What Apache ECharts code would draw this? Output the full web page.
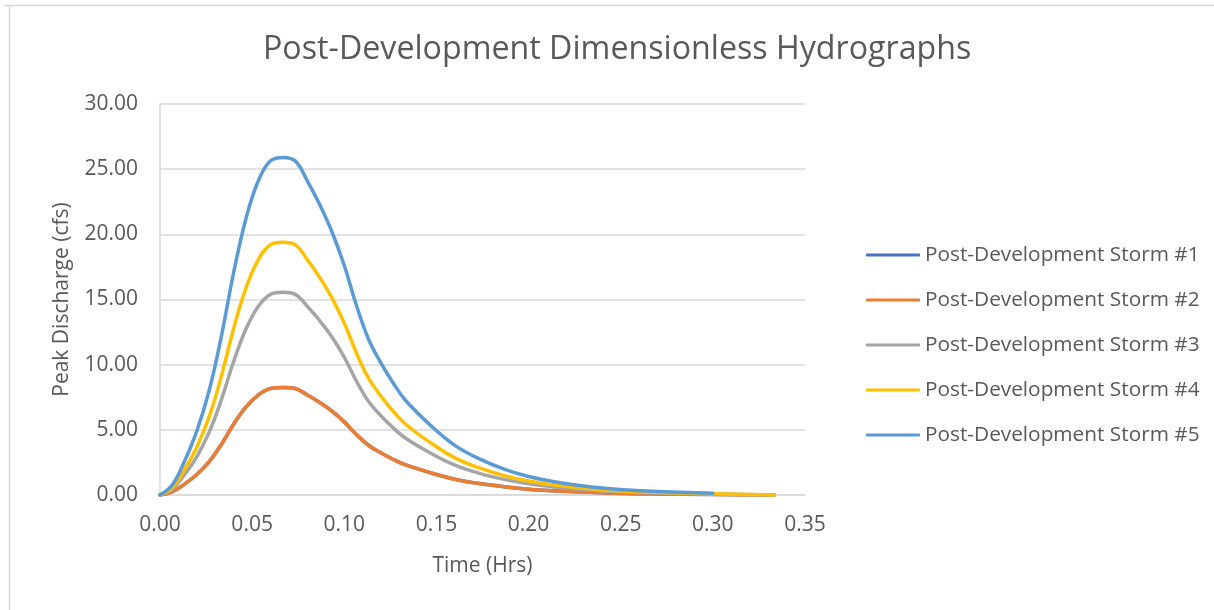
<!DOCTYPE html>
<html>
<head>
<meta charset="utf-8">
<script src="https://cdn.jsdelivr.net/npm/echarts@6/dist/echarts.min.js"></script>
<style>
  html, body { margin: 0; padding: 0; background: #ffffff; }
  #chart { width: 1214px; height: 610px; }
</style>
</head>
<body>
<div id="chart"></div>
<script>
// Time ordinates (hours) shared by all hydrographs
const timeHrs = [0, 0.0067, 0.0133, 0.02, 0.0267, 0.0333, 0.04, 0.0467, 0.0533, 0.06, 0.0667,
  0.0733, 0.08, 0.0867, 0.0933, 0.1, 0.1067, 0.1133, 0.12, 0.1267, 0.1333, 0.1467, 0.16,
  0.1733, 0.1867, 0.2, 0.2133, 0.2267, 0.24, 0.2533, 0.2667, 0.3, 0.3333];

// Discharge (cfs) for each storm
const storm1 = [0, 0.25, 0.83, 1.57, 2.56, 3.88, 5.45, 6.77, 7.67, 8.17, 8.25, 8.17, 7.67, 7.10,
  6.44, 5.61, 4.62, 3.80, 3.22, 2.72, 2.31, 1.71, 1.21, 0.88, 0.64, 0.45, 0.33, 0.24, 0.17,
  0.12, 0.09, 0.04, 0.00];
const storm2 = [0, 0.25, 0.83, 1.57, 2.56, 3.88, 5.45, 6.77, 7.67, 8.17, 8.25, 8.17, 7.67, 7.10,
  6.44, 5.61, 4.62, 3.80, 3.22, 2.72, 2.31, 1.71, 1.21, 0.88, 0.64, 0.45, 0.33, 0.24, 0.17,
  0.12, 0.09, 0.04, 0.00];
const storm3 = [0, 0.47, 1.56, 2.95, 4.82, 7.31, 10.26, 12.75, 14.46, 15.39, 15.55, 15.39, 14.46,
  13.37, 12.13, 10.57, 8.71, 7.15, 6.06, 5.13, 4.35, 3.22, 2.29, 1.66, 1.20, 0.86, 0.62, 0.45,
  0.33, 0.23, 0.17, 0.08, 0.00];
const storm4 = [0, 0.58, 1.94, 3.69, 6.01, 9.12, 12.80, 15.91, 18.04, 19.21, 19.40, 19.21, 18.04,
  16.68, 15.13, 13.19, 10.86, 8.92, 7.57, 6.40, 5.43, 4.02, 2.85, 2.08, 1.49, 1.07, 0.78, 0.56,
  0.41, 0.29, 0.21, 0.10, 0.00];
const storm5 = [0, 0.78, 2.59, 4.92, 8.03, 12.17, 17.09, 21.24, 24.09, 25.64, 25.90, 25.64, 24.09,
  22.27, 20.20, 17.61, 14.50, 11.91, 10.10, 8.55, 7.25, 5.36, 3.81, 2.77, 1.99, 1.42, 1.04, 0.75,
  0.54, 0.39, 0.28, 0.13];

const seriesNames = ['Post-Development Storm #1', 'Post-Development Storm #2',
  'Post-Development Storm #3', 'Post-Development Storm #4', 'Post-Development Storm #5'];
const seriesColors = ['#4472C4', '#ED7D31', '#A5A5A5', '#FFC000', '#5B9BD5'];
const xTicks = [0, 0.05, 0.10, 0.15, 0.20, 0.25, 0.30, 0.35];
const yTicks = [0, 5, 10, 15, 20, 25, 30];

const FONT = '"Open Sans", "Liberation Sans", sans-serif';
const TEXT = '#595959';

function pairs(values) {
  return values.map((v, i) => [timeHrs[i], v]);
}

const allSeries = [storm1, storm2, storm3, storm4, storm5].map((vals, i) => ({
  name: seriesNames[i],
  type: 'line',
  data: pairs(vals),
  smooth: 0.4,
  symbol: 'none',
  lineStyle: { color: seriesColors[i], width: 3.5, cap: 'round', join: 'round' },
  itemStyle: { color: seriesColors[i] },
  z: 2 + i
}));

const chart = echarts.init(document.getElementById('chart'), null, { renderer: 'canvas' });
chart.setOption({
  animation: false,
  backgroundColor: '#ffffff',
  textStyle: { fontFamily: FONT },
  title: {
    text: 'Post-Development Dimensionless Hydrographs',
    left: 258,
    top: 29,
    textStyle: { fontFamily: FONT, fontSize: 32.2, fontWeight: 400, color: TEXT }
  },
  grid: { left: 160, right: 409, top: 104, bottom: 115, containLabel: false },
  legend: {
    orient: 'vertical',
    left: 861,
    top: 238,
    itemWidth: 54,
    itemHeight: 3,
    itemGap: 21,
    itemTextGap: 4,
    icon: 'roundRect',
    data: seriesNames,
    textStyle: { fontFamily: FONT, fontSize: 20.8, lineHeight: 24, color: TEXT }
  },
  xAxis: {
    type: 'value',
    min: xTicks[0],
    max: xTicks[xTicks.length - 1],
    interval: 0.05,
    name: 'Time (Hrs)',
    nameLocation: 'middle',
    nameGap: 61,
    nameTextStyle: { fontFamily: FONT, fontSize: 21, color: TEXT },
    axisLine: { show: true, onZero: false, lineStyle: { color: '#D9D9D9', width: 1.5 } },
    axisTick: { show: false },
    splitLine: { show: false },
    axisLabel: {
      margin: 20,
      fontFamily: FONT, fontSize: 21, color: TEXT,
      formatter: v => v.toFixed(2)
    }
  },
  yAxis: {
    type: 'value',
    min: yTicks[0],
    max: yTicks[yTicks.length - 1],
    interval: 5,
    name: 'Peak Discharge (cfs)',
    nameLocation: 'middle',
    nameGap: 87,
    nameTextStyle: { fontFamily: FONT, fontSize: 21, color: TEXT },
    axisLine: { show: true, lineStyle: { color: '#D9D9D9', width: 1.5 } },
    axisTick: { show: false },
    splitLine: { show: true, lineStyle: { color: '#D9D9D9', width: 1.5 } },
    axisLabel: {
      margin: 22,
      fontFamily: FONT, fontSize: 21, color: TEXT,
      formatter: v => v.toFixed(2)
    }
  },
  graphic: [
    { type: 'line', shape: { x1: 4, y1: 5.5, x2: 1214, y2: 5.5 }, style: { stroke: '#D9D9D9', lineWidth: 1.5 } },
    { type: 'line', shape: { x1: 9.5, y1: 5, x2: 9.5, y2: 610 }, style: { stroke: '#D9D9D9', lineWidth: 1.5 } }
  ],
  series: allSeries
});
</script>
</body>
</html>
